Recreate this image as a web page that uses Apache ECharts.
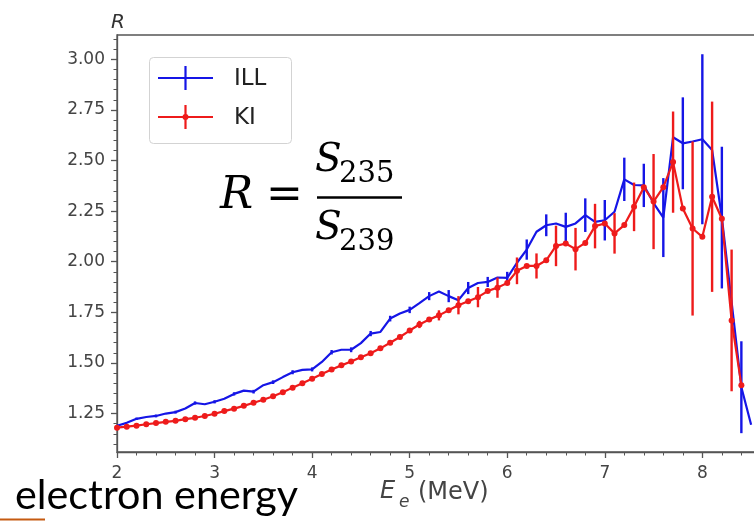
<!DOCTYPE html>
<html><head><meta charset="utf-8">
<script src="https://cdn.jsdelivr.net/npm/echarts@6/dist/echarts.min.js"></script>
<style>html,body{margin:0;padding:0;background:#fff}#c{width:754px;height:521px}</style>
</head><body><div id="c"></div><script>
// Electron energy (MeV)
const energy = [2.0,2.1,2.2,2.3,2.4,2.5,2.6,2.7,2.8,2.9,3.0,3.1,3.2,3.3,3.4,3.5,3.6,3.7,3.8,3.9,
  4.0,4.1,4.2,4.3,4.4,4.5,4.6,4.7,4.8,4.9,5.0,5.1,5.2,5.3,5.4,5.5,5.6,5.7,5.8,5.9,
  6.0,6.1,6.2,6.3,6.4,6.5,6.6,6.7,6.8,6.9,7.0,7.1,7.2,7.3,7.4,7.5,7.6,7.7,7.8,7.9,
  8.0,8.1,8.2,8.3,8.4,8.5];
// ILL ratio R
const illR = [1.190,1.204,1.224,1.233,1.238,1.250,1.257,1.275,1.302,1.296,1.308,1.323,1.347,1.363,1.358,1.390,1.405,1.430,1.454,1.466,
  1.468,1.505,1.553,1.565,1.565,1.598,1.645,1.653,1.719,1.744,1.762,1.795,1.830,1.853,1.830,1.810,1.870,1.895,1.900,1.922,
  1.920,1.995,2.060,2.148,2.180,2.189,2.172,2.189,2.230,2.197,2.205,2.247,2.407,2.379,2.377,2.290,2.218,2.615,2.585,2.594,
  2.605,2.552,2.218,1.800,1.380,1.195];
const illErr = [0.006,null,0.006,null,0.007,null,0.007,null,0.008,null,0.008,null,0.008,null,0.009,null,0.009,null,0.010,null,
  0.010,null,0.011,null,0.012,null,0.013,null,0.014,null,0.016,null,0.020,null,0.030,null,0.030,null,0.025,null,
  0.030,null,0.050,null,0.054,null,0.070,null,0.083,null,0.100,null,0.107,null,0.107,null,0.195,null,0.227,null,
  0.420,null,0.350,null,0.227,null];
// KI ratio R
const kiR = [1.180,1.185,1.190,1.197,1.203,1.209,1.214,1.222,1.229,1.238,1.249,1.262,1.274,1.288,1.303,1.318,1.335,1.355,1.378,1.400,
  1.422,1.445,1.468,1.488,1.507,1.528,1.548,1.572,1.600,1.628,1.660,1.690,1.715,1.735,1.760,1.785,1.805,1.825,1.855,1.872,
  1.895,1.955,1.979,1.979,2.007,2.078,2.090,2.062,2.093,2.176,2.189,2.140,2.181,2.271,2.368,2.297,2.368,2.492,2.263,2.164,
  2.123,2.321,2.212,1.710,1.390];
const kiErr = [null,0.004,null,0.004,null,0.005,null,0.005,null,0.005,null,0.006,null,0.006,null,0.007,null,0.007,null,0.008,
  null,0.008,null,0.009,null,0.010,null,0.010,null,0.012,null,0.018,null,0.025,null,0.045,null,0.050,null,0.050,
  null,0.066,null,0.062,null,0.100,null,0.105,null,0.110,null,0.100,null,0.120,null,0.235,null,0.250,null,0.430,
  null,0.470,null,0.350,null];
const xTickLabels = [2,3,4,5,6,7,8];
const yTickValues = [1.25,1.50,1.75,2.00,2.25,2.50,2.75,3.00];
const yMinorValues = [1.10,1.15,1.20,1.30,1.35,1.40,1.45,1.55,1.60,1.65,1.70,1.80,1.85,1.90,1.95,2.05,2.10,2.15,2.20,
  2.30,2.35,2.40,2.45,2.55,2.60,2.65,2.70,2.80,2.85,2.90,2.95,3.05,3.10];

const BLUE = '#1515e6', RED = '#ee1b1b', AX = '#555555', TXT = '#444444';

function errSeries(vals, errs, color, w, z){
  const data = [];
  for (let i = 0; i < vals.length; i++) if (errs[i]) data.push([energy[i], vals[i]-errs[i], vals[i]+errs[i]]);
  return {type:'custom', data, clip:true, z, silent:true, xAxisIndex:0, yAxisIndex:0,
    encode:{x:0, y:[1,2]},
    renderItem:(p, api) => {
      const lo = api.coord([api.value(0), api.value(1)]);
      const hi = api.coord([api.value(0), api.value(2)]);
      return {type:'line', shape:{x1:lo[0], y1:lo[1], x2:hi[0], y2:hi[1]}, style:{stroke:color, lineWidth:w}};
    }};
}

// fit "electron energy" width
const cv = document.createElement('canvas').getContext('2d');
cv.font = '38px Lato';
const eeSize = 38 * 283 / cv.measureText('electron energy').width;

const chart = echarts.init(document.getElementById('c'), null, {renderer:'canvas'});
chart.setOption({
  animation:false,
  backgroundColor:'#ffffff',
  grid:{left:117, top:35, width:639, height:417, show:true, borderColor:AX, borderWidth:1.3, outerBoundsMode:'none', containLabel:false},
  xAxis:{type:'value', min:2, max:8.55, interval:1,
    axisLine:{show:true, lineStyle:{color:AX, width:1.3}},
    axisTick:{show:true, length:6, lineStyle:{color:AX, width:1.3}},
    minorTick:{show:true, splitNumber:5, length:3.5, lineStyle:{color:AX, width:1}},
    splitLine:{show:false},
    axisLabel:{show:true, margin:13, fontSize:17, color:TXT, fontFamily:'DejaVu Sans',
      formatter:v => xTickLabels.indexOf(v) >= 0 ? String(v) : ''}},
  yAxis:[
    {type:'value', min:1.06, max:3.12, position:'left',
      axisLine:{show:true, lineStyle:{color:AX, width:1.3}},
      axisTick:{show:true, length:6, customValues:yTickValues, lineStyle:{color:AX, width:1.3}},
      splitLine:{show:false},
      axisLabel:{show:true, margin:12, fontSize:17, color:TXT, fontFamily:'DejaVu Sans',
        customValues:yTickValues, formatter:v => v.toFixed(2)}},
    {type:'value', min:1.06, max:3.12, position:'left', offset:0,
      axisLine:{show:false},
      axisTick:{show:true, length:3.5, customValues:yMinorValues, lineStyle:{color:AX, width:1}},
      splitLine:{show:false},
      axisLabel:{show:false}}
  ],
  series:[
    errSeries(illR, illErr, BLUE, 2.4, 2),
    {type:'line', name:'ILL', data:energy.map((e,i)=>[e, illR[i]]), showSymbol:false, symbol:'none',
      lineStyle:{color:BLUE, width:2.2}, itemStyle:{color:BLUE}, z:3, silent:true},
    errSeries(kiR, kiErr, RED, 2.4, 4),
    {type:'line', name:'KI', data:kiR.map((r,i)=>[energy[i], r]), symbol:'circle', symbolSize:6, showSymbol:true,
      lineStyle:{color:RED, width:2.2}, itemStyle:{color:RED}, z:5, silent:true}
  ],
  graphic:[
    // legend
    {type:'rect', shape:{x:149.5, y:57.5, width:142, height:86, r:4}, style:{fill:'rgba(255,255,255,0.85)', stroke:'#d3d3d3', lineWidth:1}, z:20},
    {type:'line', shape:{x1:158, y1:78, x2:213, y2:78}, style:{stroke:BLUE, lineWidth:2.2}, z:21},
    {type:'line', shape:{x1:185.5, y1:66, x2:185.5, y2:90}, style:{stroke:BLUE, lineWidth:2.2}, z:21},
    {type:'line', shape:{x1:158, y1:117, x2:213, y2:117}, style:{stroke:RED, lineWidth:2.2}, z:21},
    {type:'line', shape:{x1:185.5, y1:105, x2:185.5, y2:129}, style:{stroke:RED, lineWidth:2.2}, z:21},
    {type:'circle', shape:{cx:185.5, cy:117, r:3}, style:{fill:RED}, z:21},
    {type:'text', x:234, y:79, style:{text:'ILL', font:'23px "DejaVu Sans"', fill:'#222', verticalAlign:'middle'}, z:21},
    {type:'text', x:234, y:118, style:{text:'KI', font:'23px "DejaVu Sans"', fill:'#222', verticalAlign:'middle'}, z:21},
    // formula
    {type:'text', x:220, y:197, style:{text:'R', font:'italic 44px "DejaVu Serif"', fill:'#000', verticalAlign:'middle'}, z:22},
    {type:'text', x:266, y:197, style:{text:'=', font:'44px "DejaVu Serif"', fill:'#000', verticalAlign:'middle'}, z:22},
    {type:'text', x:315, y:161, style:{text:'S', font:'italic 39px "DejaVu Serif"', fill:'#000', verticalAlign:'middle'}, z:22},
    {type:'text', x:339, y:174, style:{text:'235', font:'29px "DejaVu Serif"', fill:'#000', verticalAlign:'middle'}, z:22},
    {type:'line', shape:{x1:317, y1:197.5, x2:402, y2:197.5}, style:{stroke:'#000', lineWidth:2.4}, z:22},
    {type:'text', x:315, y:229, style:{text:'S', font:'italic 39px "DejaVu Serif"', fill:'#000', verticalAlign:'middle'}, z:22},
    {type:'text', x:339, y:242, style:{text:'239', font:'29px "DejaVu Serif"', fill:'#000', verticalAlign:'middle'}, z:22},
    // axis titles
    {type:'text', x:118, y:23, style:{text:'R', font:'italic 20px "DejaVu Sans"', fill:'#333', align:'center', verticalAlign:'middle'}, z:22},
    {type:'text', x:380, y:492, style:{text:'E', font:'italic 24px "DejaVu Sans"', fill:'#444', verticalAlign:'middle'}, z:22},
    {type:'text', x:399, y:503, style:{text:'e', font:'italic 17px "DejaVu Sans"', fill:'#444', verticalAlign:'middle'}, z:22},
    {type:'text', x:418, y:493, style:{text:'(MeV)', font:'24px "DejaVu Sans"', fill:'#444', verticalAlign:'middle'}, z:22},
    // slide text
    {type:'text', x:15, y:496, style:{text:'electron energy', font:eeSize.toFixed(1)+'px Lato', fill:'#000', verticalAlign:'middle'}, z:23},
    {type:'line', shape:{x1:0, y1:519.5, x2:45, y2:519.5}, style:{stroke:'#c55a11', lineWidth:2}, z:23}
  ]
});
</script></body></html>
